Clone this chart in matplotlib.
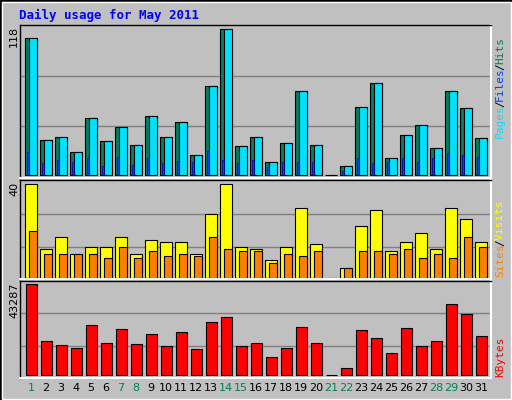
import matplotlib
matplotlib.use("Agg")
import matplotlib.pyplot as plt
from matplotlib.patches import Rectangle
import numpy as np

days = list(range(1, 32))
hits = [110.8,28,30.5,18.5,45.8,27.3,38.5,24,48,30.5,42.5,16,72,118,23,31,10.4,25.7,68,24,0,7.2,54.6,74.6,13.6,32,40,21.7,68,53.8,29.7]
pages = hits
files = [18.5,9.6,12,10.4,13.6,7,14.4,8,13.6,9.6,11.2,10.4,19.3,12,9.6,12,6.4,10.4,10.4,10.4,0,3.2,13.6,9.6,10.4,13.6,10.4,13.6,17.7,16,14.4]
visits = [40,12.2,17.4,10,13,13,17.4,10,16,15.2,15.2,10,27.4,40,13,12.2,7.4,13,30,14.3,0,4.3,22.2,29,11.3,15.2,19,12.2,30,25.2,15.2]
sites = [20,10,10,10,10,8.3,13,8.3,11.3,9.1,10,9.1,17.4,12.2,11.3,11.3,6.1,10,9.1,11.3,0,4.3,11.3,11.3,10,12.2,8.3,10,8.3,17.4,13]
kbytes = [43287,16272,14376,12954,23855,15324,21959,14850,19589,13902,20537,12480,25276,27646,13902,15324,8689,12954,22907,15324,0,3475,21485,17693,10584,22433,13902,16272,33807,29068,18641]
weekend = {1,7,8,14,15,21,22,28,29}

W, H = 512, 400
fig = plt.figure(figsize=(W/100, H/100), dpi=100)
fig.patch.set_facecolor('#C0C0C0')
fig.patches.append(Rectangle((0,0),1,1,transform=fig.transFigure,fill=False,ec='black',lw=2))
fig.patches.append(Rectangle((1.5/W,1.5/H),1-3/W,1-3/H,transform=fig.transFigure,fill=False,ec='white',lw=1))

fig.text(19/W, 1-15/H, "Daily usage for May 2011", color='#0000FF', fontsize=9,
         fontweight='bold', family='DejaVu Sans Mono', va='center', ha='left')

xl = 1 - 5.3/15
xr = xl + 470.7/15
def mkax(top, bot):
    ax = fig.add_axes([20/W, 1-bot/H, 470.7/W, (bot-top)/H])
    ax.set_facecolor('#C0C0C0')
    ax.set_xlim(xl, xr)
    ax.set_xticks([]); ax.set_yticks([])
    for s in ['top','left']:
        ax.spines[s].set_color('black'); ax.spines[s].set_linewidth(1)
    for s in ['bottom','right']:
        ax.spines[s].set_color('white'); ax.spines[s].set_linewidth(1.5)
    return ax

x = np.array(days, dtype=float)
ax1 = mkax(24.7, 178)
m = max(hits)
ax1.set_ylim(-m*0.022, m*455/441)
for g in (1/3, 0.678):
    ax1.axhline(m*g, color='#808080', lw=1, zorder=0)
ax1.bar(x, hits, width=0.76, align='edge', color='#00805F', ec='black', lw=0.8, zorder=1)
ax1.bar(x+0.27, pages, width=0.49, align='edge', color='#00E0FF', ec='black', lw=0.8, zorder=2)
ax1.bar(x+0.1, files, width=0.12, align='edge', color='#0040FF', ec='#000080', lw=0.5, zorder=3)

ax2 = mkax(180.3, 278.7)
m = max(visits)
ax2.set_ylim(-m*0.012, m*288/276)
for g in (0.326, 0.685):
    ax2.axhline(m*g, color='#808080', lw=1, zorder=0)
ax2.bar(x, visits, width=0.76, align='edge', color='#FFFF00', ec='black', lw=0.8, zorder=1)
ax2.bar(x+0.27, sites, width=0.49, align='edge', color='#FF8000', ec='black', lw=0.8, zorder=2)

ax3 = mkax(280.7, 378)
m = max(kbytes)
ax3.set_ylim(-m*8/274, m*285/274)
for g in (0.32, 0.68):
    ax3.axhline(m*g, color='#808080', lw=1, zorder=0)
ax3.bar(x+0.07, kbytes, width=0.69, align='edge', color='#FF0000', ec='black', lw=0.8, zorder=1)

for d in days:
    fig.text((20 + (d - xl + 0.38)*15)/W, 1-388/H, str(d), ha='center', va='center',
             fontsize=8, color='#00805F' if d in weekend else 'black')

lab = dict(rotation=90, fontsize=8, ha='center', va='top', color='black')
fig.text(14/W, 1-26/H, "118", **lab)
fig.text(14/W, 1-182/H, "40", **lab)
fig.text(14/W, 1-282/H, "43287", **lab)

def rlegend(parts, ybottom):
    y = ybottom
    for t, c in parts:
        fig.text(500/W, y/H, t, rotation=90, color=c, fontsize=8,
                 family='DejaVu Sans Mono', ha='center', va='bottom')
        y += len(t)*6.2
rlegend([("Pages", '#00E0FF'), ("/", 'black'), ("Files", '#0040FF'), ("/", 'black'), ("Hits", '#00805F')], 400-138)
rlegend([("Sites", '#FF8000'), ("/", 'black'), ("Visits", '#FFFF00')], 400-277)
rlegend([("KBytes", '#FF0000')], 400-377)

fig.savefig("out.png", dpi=100, facecolor=fig.get_facecolor())
